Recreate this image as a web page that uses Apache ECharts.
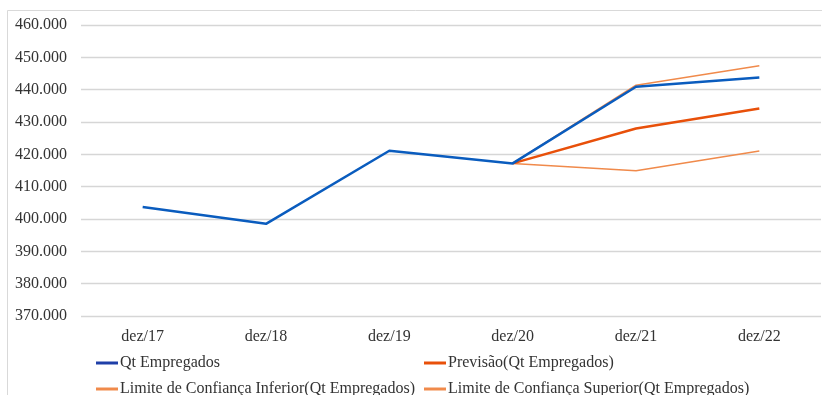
<!DOCTYPE html>
<html>
<head>
<meta charset="utf-8">
<script src="https://cdn.jsdelivr.net/npm/echarts@6/dist/echarts.min.js"></script>
<style>
html,body{margin:0;padding:0;background:#fff;}
#c{width:822px;height:395px;}
</style>
</head>
<body>
<div id="c"></div>
<script>
const categories = ['dez/17', 'dez/18', 'dez/19', 'dez/20', 'dez/21', 'dez/22'];
const qtEmpregados = [403700, 398500, 421100, 417200, 440900, 443800];
const previsao = [null, null, null, 417200, 428000, 434200];
const limiteInferior = [null, null, null, 417200, 414900, 421000];
const limiteSuperior = [null, null, null, 417200, 441400, 447400];
const seriesNames = [
  'Qt Empregados',
  'Previsão(Qt Empregados)',
  'Limite de Confiança Inferior(Qt Empregados)',
  'Limite de Confiança Superior(Qt Empregados)'
];

const chart = echarts.init(document.getElementById('c'), null, {renderer: 'canvas'});
const font = '"Liberation Serif", "Times New Roman", serif';
const blue = '#0A5CBE';
const red = '#E8500A';
const orange = '#F08A4B';

function fmt(v) {
  return String(Math.round(v)).replace(/\B(?=(\d{3})+(?!\d))/g, '.');
}

function legendAt(name, left, top, color) {
  return {
    left: left, top: top,
    orient: 'horizontal',
    data: [{name: name, itemStyle: {color: color}}],
    icon: 'rect',
    itemWidth: 22, itemHeight: 3,
    padding: 0,
    selectedMode: false,
    textStyle: {fontFamily: font, fontSize: 16, color: '#333', padding: [0, 0, 0, -3]}
  };
}

chart.setOption({
  animation: false,
  backgroundColor: '#fff',
  graphic: [{
    type: 'rect',
    shape: {x: 7.5, y: 10.5, width: 830, height: 400},
    style: {fill: 'none', stroke: '#d9d9d9', lineWidth: 1},
    silent: true, z: -1
  }],
  grid: {left: 81, right: 1, top: 25, bottom: 79, containLabel: false},
  legend: [
    legendAt(seriesNames[0], 96, 355, '#1F3FA8'),
    legendAt(seriesNames[1], 424, 355, red),
    legendAt(seriesNames[2], 96, 381, orange),
    legendAt(seriesNames[3], 424, 381, orange)
  ],
  xAxis: {
    type: 'category',
    data: categories,
    boundaryGap: true,
    axisLine: {show: false},
    axisTick: {show: false},
    axisLabel: {fontFamily: font, fontSize: 16, color: '#333', margin: 13}
  },
  yAxis: {
    type: 'value',
    min: 370000, max: 460000, interval: 10000,
    axisLine: {show: false},
    axisTick: {show: false},
    splitLine: {lineStyle: {color: '#d6d6d6', width: 1.3}},
    axisLabel: {fontFamily: font, fontSize: 16, color: '#333', margin: 14, formatter: fmt}
  },
  series: [
    {name: seriesNames[0], type: 'line', data: qtEmpregados, symbol: 'none', z: 5,
     lineStyle: {color: blue, width: 2.5}, itemStyle: {color: blue}},
    {name: seriesNames[1], type: 'line', data: previsao, symbol: 'none', z: 4,
     lineStyle: {color: red, width: 2.5}, itemStyle: {color: red}},
    {name: seriesNames[2], type: 'line', data: limiteInferior, symbol: 'none', z: 3,
     lineStyle: {color: orange, width: 1.5}, itemStyle: {color: orange}},
    {name: seriesNames[3], type: 'line', data: limiteSuperior, symbol: 'none', z: 3,
     lineStyle: {color: orange, width: 1.5}, itemStyle: {color: orange}}
  ]
});
</script>
</body>
</html>
